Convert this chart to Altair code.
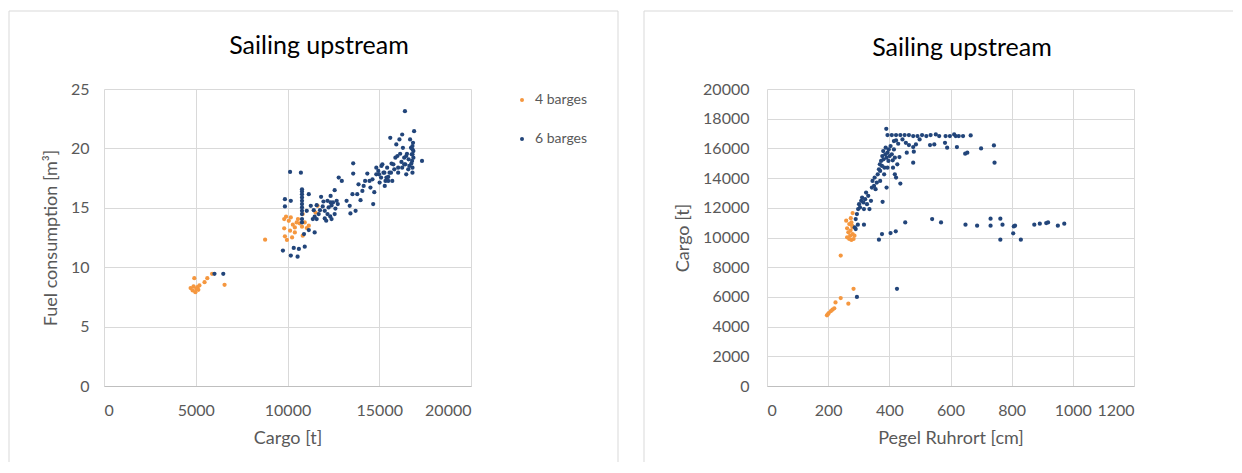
import altair as alt
import pandas as pd

SERIES = ["4 barges", "6 barges"]
COLORS = ["#F5973F", "#22457A"]
TITLE = "Sailing upstream"

# Left chart: Cargo [t] vs Fuel consumption [m3]
left_4 = [(4920, 9.08), (4720, 8.24), (4830, 8.04), (4980, 7.9), (5090, 8.32), (5200, 8.46),
          (5030, 8.18), (4880, 8.38), (5140, 8.1), (5480, 8.74), (5630, 9.08), (5890, 9.44),
          (6570, 8.52), (8780, 12.32), (9820, 14.05), (9920, 14.25), (9820, 13.27), (9860, 12.6),
          (9970, 12.29), (10070, 13.9), (10180, 14.19), (10290, 13.58), (10400, 13.35),
          (10500, 13.77), (10250, 12.51), (10660, 13.69), (10790, 13.41), (10940, 13.77),
          (11050, 13.3), (11160, 13.49), (10830, 12.65), (10400, 12.93), (10140, 13.07),
          (11640, 15.17), (11530, 14.6), (10830, 14.47), (10570, 14.05)]

left_6 = [(6020, 9.44), (6500, 9.44), (9750, 11.4), (10180, 10.98), (10550, 10.89), (10340, 11.62),
          (10620, 11.54), (10940, 11.73), (9860, 15.73), (9860, 15.11), (10180, 15.59),
          (10140, 18.02), (10730, 17.96), (10790, 16.56), (10790, 16.37), (10790, 16.14),
          (10790, 15.87), (10790, 15.59), (10790, 15.31), (10790, 15.03), (10790, 14.75),
          (10790, 14.47), (10790, 14.05), (10790, 13.77), (10900, 12.79), (11160, 13.13),
          (11050, 14.75), (11270, 15.17), (11160, 16.15), (11380, 14.05), (11480, 14.25),
          (11590, 14.05), (11700, 14.47), (11480, 12.93), (11770, 14.8), (11920, 15.11),
          (11830, 15.92), (12030, 14.75), (12180, 14.47), (12240, 15.03), (12350, 15.45),
          (12350, 16.0), (12400, 14.05), (12570, 14.47), (12610, 14.94), (12740, 15.31),
          (12570, 16.48), (12790, 17.54), (12960, 17.26), (13220, 15.59), (13390, 15.17),
          (13430, 14.53), (13540, 16.15), (13580, 17.88), (13580, 18.74), (13710, 14.75),
          (13800, 16.15), (13870, 16.98), (13980, 15.64), (14080, 16.42), (14150, 16.84),
          (14230, 17.26), (14350, 17.88), (14470, 17.26), (14520, 16.7), (14630, 17.4),
          (14670, 15.31), (14730, 16.31), (14840, 17.82), (14950, 18.1), (15020, 17.12),
          (15100, 17.54), (15170, 18.66), (15230, 17.96), (15300, 16.84), (15340, 17.26),
          (15430, 18.38), (15490, 17.6), (15560, 17.96), (15600, 20.89), (15670, 18.72),
          (15710, 17.26), (15820, 18.24), (15880, 19.22), (15930, 20.33), (15990, 19.36),
          (16030, 18.38), (16100, 20.75), (16140, 19.55), (16210, 18.86), (16250, 21.17),
          (16290, 20.05), (16360, 19.22), (16400, 23.13), (16420, 18.66), (16470, 17.82),
          (16510, 19.55), (16580, 18.24), (16680, 20.75), (16730, 20.05), (16770, 19.5),
          (16790, 18.94), (16810, 18.38), (16810, 17.96), (16840, 20.47), (16860, 19.78),
          (16860, 19.22), (16900, 21.45), (17330, 18.94), (11430, 14.8), (11590, 15.22),
          (12030, 14.1), (12400, 15.2), (11960, 15.53), (14840, 18.38), (14990, 17.82),
          (15120, 18.52), (15280, 17.96), (15390, 17.54), (15490, 17.26), (15640, 17.96),
          (15770, 18.66), (16030, 17.96), (16250, 18.38), (16600, 19.08), (16470, 19.36),
          (16640, 18.52), (16750, 18.72), (16810, 19.5), (16810, 19.92), (16810, 20.2),
          (16360, 18.66), (12180, 15.59), (12480, 15.45), (12680, 15.59), (12110, 13.91),
          (12330, 14.27)]

# Right chart: Pegel Ruhrort [cm] vs Cargo [t]
right_4 = [(196, 4760), (202, 4916), (209, 5050), (214, 5140), (220, 5229), (199, 4827),
           (224, 5631), (241, 5922), (266, 5542), (283, 6547), (241, 8782), (259, 11129),
           (280, 11642), (269, 10905), (276, 11017), (262, 10615), (266, 10347), (273, 10458),
           (280, 10235), (262, 10011), (269, 9899), (276, 9832), (283, 9899), (286, 10123),
           (280, 10682), (272, 10123), (274, 11300), (278, 10800)]

right_6 = [(294, 6000), (425, 6548), (290, 10570), (297, 10860), (317, 10860), (366, 9855),
           (376, 10235), (404, 10302), (421, 10413), (452, 11017), (540, 11240), (569, 11017),
           (649, 10860), (687, 10793), (731, 11263), (731, 10793), (763, 11263), (770, 10860),
           (763, 9855), (805, 10279), (811, 10793), (830, 9855), (874, 10860), (892, 10927),
           (913, 10972), (919, 11017), (951, 10793), (972, 10927), (807, 10749),
           (287, 10682), (290, 11240), (294, 11575), (298, 11911), (301, 12246), (304, 12022),
           (308, 12469), (311, 12692), (315, 12358), (317, 11911), (321, 12581), (324, 13028),
           (327, 12246), (331, 12804), (335, 11911), (340, 12469), (343, 13363), (345, 13810),
           (350, 13475), (352, 14034), (355, 13251), (359, 13698), (362, 14257), (366, 14593),
           (369, 14928), (370, 14481), (373, 15152), (376, 14816), (377, 15487), (380, 15822),
           (381, 15264), (384, 14705), (387, 15599), (388, 16046), (390, 17318), (391, 15375),
           (394, 15711), (397, 15152), (398, 15934), (401, 15487), (404, 16158), (408, 15599),
           (411, 15196), (412, 14705), (415, 15934), (418, 15375), (422, 14034), (426, 14928),
           (378, 12402), (391, 13363), (436, 13631), (433, 15420), (418, 14257), (394, 14705),
           (383, 14257), (370, 13810),
           (394, 16894), (408, 16894), (422, 16894), (436, 16894), (450, 16894), (464, 16894),
           (478, 16827), (492, 16827), (507, 16894), (521, 16827), (535, 16894), (552, 16939),
           (563, 16827), (584, 16827), (598, 16827), (612, 16939), (617, 16827), (627, 16827),
           (641, 16827), (666, 16870),
           (415, 16492), (429, 16313), (443, 16603), (454, 16380), (464, 16223), (478, 16089),
           (487, 16268), (499, 16603), (533, 16223), (547, 16268), (582, 16380), (589, 16045),
           (621, 16089), (648, 15642), (655, 15709), (700, 16000), (742, 16201), (744, 15039),
           (478, 15039), (480, 15777), (457, 15709), (422, 16537)]


def frame(pairs_by_series):
    rows = []
    for name, pairs in zip(SERIES, pairs_by_series):
        for xv, yv in pairs:
            rows.append({"x": xv, "y": yv, "series": name})
    return pd.DataFrame(rows)


FONT = "Lato"
GRID = "#d9d9d9"
TXT = "#595959"


def panel(df, xdom, xvals, xtitle, ydom, yvals, ytitle, box, legend_xy, row_pad,
          title_xy, ylabel_pad):
    W, H = 367, 297
    left, right, top, bottom, draw_right = box
    deco = pd.DataFrame({"k": [0]})
    layers = [
        alt.Chart(deco).mark_rule(color=GRID, strokeWidth=1).encode(
            x=alt.value(left), y=alt.value(top), y2=alt.value(bottom)),
        alt.Chart(deco).mark_rule(color=GRID, strokeWidth=1).encode(
            x=alt.value(left), x2=alt.value(right), y=alt.value(top)),
    ]
    if draw_right:
        layers.append(alt.Chart(deco).mark_rule(color=GRID, strokeWidth=1).encode(
            x=alt.value(right), y=alt.value(top), y2=alt.value(bottom)))
    layers.append(alt.Chart(deco).mark_text(
        font=FONT, fontSize=25, color="#000000", align="center", baseline="middle").encode(
        x=alt.value(title_xy[0]), y=alt.value(title_xy[1]), text=alt.value(TITLE)))
    pts = alt.Chart(df).mark_circle(size=18, opacity=1).encode(
        x=alt.X("x:Q", scale=alt.Scale(domain=xdom, nice=False),
                axis=alt.Axis(values=xvals, title=xtitle, grid=True, gridColor=GRID,
                              domainColor="#bfbfbf", ticks=False, tickSize=0,
                              labelPadding=16, titlePadding=11, format="d")),
        y=alt.Y("y:Q", scale=alt.Scale(domain=ydom, nice=False),
                axis=alt.Axis(values=yvals, title=ytitle, grid=True, gridColor=GRID,
                              domain=False, ticks=False, tickSize=0,
                              labelPadding=ylabel_pad, titlePadding=10, format="d")),
        color=alt.Color("series:N",
                        scale=alt.Scale(domain=SERIES, range=COLORS),
                        legend=alt.Legend(title=None, orient="none",
                                          legendX=legend_xy[0], legendY=legend_xy[1],
                                          rowPadding=row_pad, symbolType="circle",
                                          symbolSize=16, labelFontSize=14,
                                          labelColor=TXT, labelFont=FONT,
                                          labelOffset=6, padding=0)),
    )
    layers.append(pts)
    return alt.layer(*layers).properties(width=W, height=H)


left_df = frame([left_4, left_6])
right_df = frame([right_4, right_6])

left_chart = panel(left_df, [0, 20000], [0, 5000, 10000, 15000, 20000], "Cargo [t]",
                   [0, 25], [0, 5, 10, 15, 20, 25], "Fuel consumption [m³]",
                   (-95, 514, -78, 373, True), (411, 4), 25, (215, -43), 15)

right_chart = panel(right_df, [0, 1200], [0, 200, 400, 600, 800, 1000, 1200], "Pegel Ruhrort [cm]",
                    [0, 20000], list(range(0, 20001, 2000)), "Cargo  [t]",
                    (-123, 466, -78, 373, False), (388, 5), 34, (195, -41), 18)

chart = alt.hconcat(left_chart, right_chart, spacing=24).properties(
    padding={"left": 0, "top": 2, "right": 0, "bottom": 0},
    background="white",
).configure_axis(
    labelFont=FONT, labelFontSize=16, labelColor=TXT,
    titleFont=FONT, titleFontSize=18, titleFontWeight="normal", titleColor=TXT,
).configure_view(strokeWidth=0)

chart.save("out.html", embed_options={"renderer": "svg", "actions": False})
